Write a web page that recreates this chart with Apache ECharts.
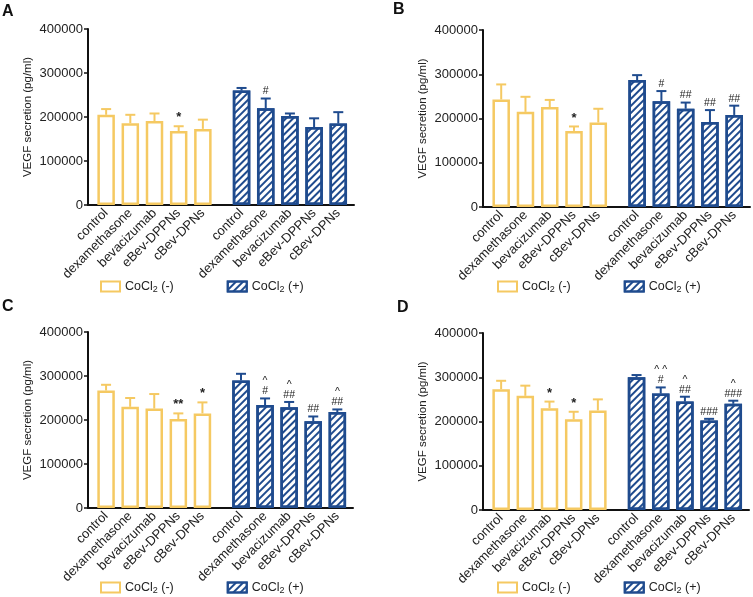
<!DOCTYPE html>
<html><head><meta charset="utf-8">
<script src="https://cdn.jsdelivr.net/npm/echarts@6/dist/echarts.min.js"></script>
<style>html,body{margin:0;padding:0;background:#fff}#c{width:753px;height:597px}</style>
</head><body><div id="c"></div>
<script>
// ---------- data ----------
const categories = ['control', 'dexamethasone', 'bevacizumab', 'eBev-DPPNs', 'cBev-DPNs'];
const panelLetters = ['A', 'B', 'C', 'D'];
const legendNames = ['CoCl2 (-)', 'CoCl2 (+)'];
const yAxisName = 'VEGF secretion (pg/ml)';
const yMax = 400000;
const yStep = 100000;

// Panel A
const aNeg = [205000, 186000, 191000, 168000, 173000];
const aNegErr = [13000, 19000, 17000, 11000, 21000];
const aPos = [260000, 220000, 202000, 177000, 185000];
const aPosErr = [6000, 22000, 6000, 20000, 26000];
const aNegSig = ['', '', '', '*', ''];
const aPosSig = ['', '#', '', '', ''];

// Panel B
const bNeg = [243000, 215000, 226000, 172000, 191000];
const bNegErr = [34000, 34000, 16000, 10000, 31000];
const bPos = [287000, 239000, 222000, 192000, 208000];
const bPosErr = [11000, 23000, 14000, 27000, 21000];
const bNegSig = ['', '', '', '*', ''];
const bPosSig = ['', '#', '##', '##', '##'];

// Panel C
const cNeg = [267000, 230000, 226000, 202000, 215000];
const cNegErr = [13000, 20000, 33000, 13000, 25000];
const cPos = [290000, 234000, 229000, 197000, 218000];
const cPosErr = [15000, 15000, 12000, 11000, 6000];
const cNegSig = ['', '', '', '**', '*'];
const cPosSig = ['', '^\n#', '^\n##', '##', '^\n##'];

// Panel D
const dNeg = [273000, 258000, 230000, 205000, 225000];
const dNegErr = [19000, 23000, 15000, 17000, 25000];
const dPos = [300000, 263000, 245000, 202000, 240000];
const dPosErr = [5000, 14000, 11000, 4000, 7000];
const dNegSig = ['', '', '*', '*', ''];
const dPosSig = ['', '^ ^\n#', '^\n##', '###', '^\n###'];

// ---------- layout ----------
const YELLOW = '#F5C962';
const BLUE = '#1F4B8E';
const FONT = '"Liberation Sans", Arial, Helvetica, sans-serif';
const N_SLOTS = 110;
const negIdx = [7, 17, 27, 37, 47];
const posIdx = [63, 73, 83, 93, 103];
const axisData = new Array(N_SLOTS).fill('');
negIdx.forEach((k, i) => axisData[k] = categories[i]);
posIdx.forEach((k, i) => axisData[k] = categories[i]);
const showAt = (idx) => axisData[idx] !== '';

const panels = [
  {neg: aNeg, negErr: aNegErr, pos: aPos, posErr: aPosErr, negSig: aNegSig, posSig: aPosSig,
   grid: {left: 88, top: 29, width: 266, height: 176}, title: [2, 4], legend: [100, 280]},
  {neg: bNeg, negErr: bNegErr, pos: bPos, posErr: bPosErr, negSig: bNegSig, posSig: bPosSig,
   grid: {left: 483, top: 30, width: 267, height: 177}, title: [393, 2], legend: [497, 280]},
  {neg: cNeg, negErr: cNegErr, pos: cPos, posErr: cPosErr, negSig: cNegSig, posSig: cPosSig,
   grid: {left: 88, top: 332, width: 265, height: 176}, title: [2, 299], legend: [100, 581]},
  {neg: dNeg, negErr: dNegErr, pos: dPos, posErr: dPosErr, negSig: dNegSig, posSig: dPosSig,
   grid: {left: 483, top: 333, width: 266, height: 177}, title: [397, 300], legend: [497, 581]}
];

const option = {
  animation: false,
  backgroundColor: '#fff',
  textStyle: {fontFamily: FONT},
  title: [], grid: [], xAxis: [], yAxis: [], legend: [], series: []
};

function expand(idxs, vals) {
  const arr = new Array(N_SLOTS).fill('-');
  idxs.forEach((k, i) => arr[k] = vals[i]);
  return arr;
}

function errSeries(p, idxs, vals, errs, sigs, color) {
  return {
    type: 'custom', xAxisIndex: p, yAxisIndex: p, z: 10, silent: true,
    data: idxs.map((k, i) => [k, vals[i], vals[i] + errs[i]]),
    renderItem(params, api) {
      const x = api.value(0);
      const top = api.coord([x, api.value(1)]);
      const cap = api.coord([x, api.value(2)]);
      const s = sigs[params.dataIndex];
      const children = [
        {type: 'line', shape: {x1: top[0], y1: top[1], x2: cap[0], y2: cap[1]}, style: {stroke: color, lineWidth: 2}},
        {type: 'line', shape: {x1: cap[0] - 5, y1: cap[1], x2: cap[0] + 5, y2: cap[1]}, style: {stroke: color, lineWidth: 2}}
      ];
      if (s) {
        const isStar = s.indexOf('*') >= 0;
        children.push({type: 'text', style: {
          text: s, x: cap[0], y: cap[1] - 2, align: 'center', verticalAlign: 'bottom',
          fontSize: isStar ? 13 : 10.5, lineHeight: isStar ? 13 : 10, fontWeight: isStar ? 'bold' : 'normal',
          fill: '#222', fontFamily: FONT
        }});
      }
      return {type: 'group', children};
    }
  };
}

const legendRich = {
  a: {fontSize: 12.5, color: '#222', fontFamily: FONT},
  s: {fontSize: 9, color: '#222', fontFamily: FONT, padding: [7, 0, 0, 0]}
};

panels.forEach((pn, p) => {
  option.title.push({text: panelLetters[p], left: pn.title[0], top: pn.title[1], padding: 0,
    textStyle: {fontSize: 16, fontWeight: 'bold', color: '#111', fontFamily: FONT}});
  option.grid.push(Object.assign({containLabel: false}, pn.grid));
  option.xAxis.push({
    type: 'category', gridIndex: p, data: axisData, boundaryGap: true,
    axisLine: {lineStyle: {color: '#111', width: 2}},
    axisTick: {alignWithLabel: true, interval: showAt, length: 5, lineStyle: {width: 1.5, color: '#111'}},
    axisLabel: {interval: showAt, rotate: 45, fontSize: 13, color: '#222', margin: 6, fontFamily: FONT},
    splitLine: {show: false}
  });
  option.yAxis.push({
    type: 'value', gridIndex: p, min: 0, max: yMax, interval: yStep,
    name: yAxisName, nameLocation: 'middle', nameGap: 54,
    nameTextStyle: {fontSize: 11.5, color: '#222', fontFamily: FONT},
    axisLine: {show: true, lineStyle: {color: '#111', width: 2}},
    axisTick: {show: true, length: 4, lineStyle: {width: 1.5, color: '#111'}},
    axisLabel: {fontSize: 13, color: '#222', margin: 5, fontFamily: FONT, formatter: (v) => String(v)},
    splitLine: {show: false}
  });
  option.legend.push({
    left: pn.legend[0], top: pn.legend[1], padding: 0, itemWidth: 19, itemHeight: 10, itemGap: 53,
    icon: 'rect', data: legendNames, selectedMode: false,
    formatter: (name) => name === legendNames[0] ? '{a|CoCl}{s|2}{a| (-)}' : '{a|CoCl}{s|2}{a| (+)}',
    textStyle: {rich: legendRich, fontSize: 12.5}
  });
  option.series.push({
    type: 'bar', name: legendNames[0], xAxisIndex: p, yAxisIndex: p,
    data: expand(negIdx, pn.neg), barWidth: 17.5, barGap: '-100%',
    itemStyle: {color: '#fff', borderColor: YELLOW, borderWidth: 2.5}
  });
  option.series.push({
    type: 'bar', name: legendNames[1], xAxisIndex: p, yAxisIndex: p,
    data: expand(posIdx, pn.pos), barWidth: 17.5, barGap: '-100%',
    itemStyle: {color: '#fff', borderColor: BLUE, borderWidth: 2.5,
      decal: {symbol: 'rect', color: BLUE, dashArrayX: [1, 0], dashArrayY: [2, 2.5], rotation: -Math.PI / 4, symbolSize: 1}}
  });
  option.series.push(errSeries(p, negIdx, pn.neg, pn.negErr, pn.negSig, YELLOW));
  option.series.push(errSeries(p, posIdx, pn.pos, pn.posErr, pn.posSig, BLUE));
});

const chart = echarts.init(document.getElementById('c'), null, {renderer: 'canvas'});
chart.setOption(option);
</script>
</body></html>
